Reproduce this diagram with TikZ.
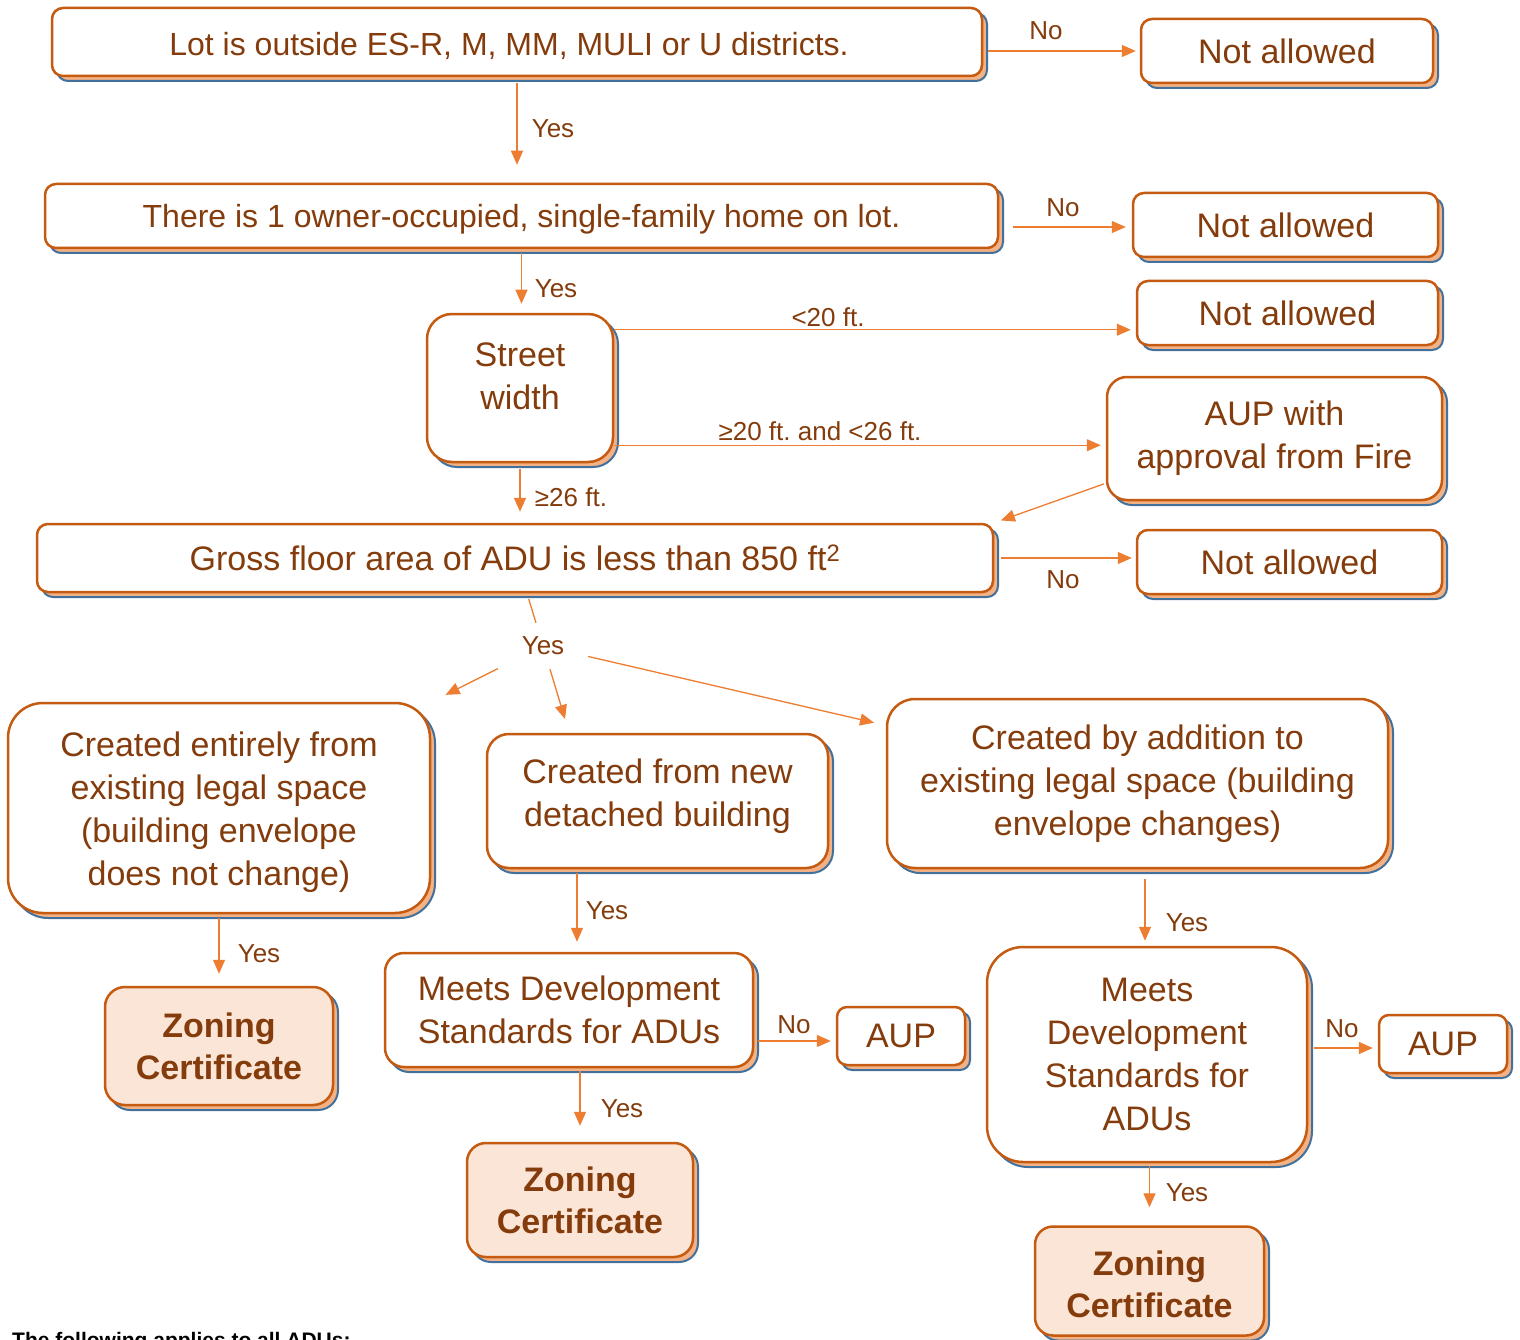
\documentclass[tikz,border=0pt]{standalone}
\usepackage{fontspec}
\setmainfont{Liberation Sans}
\usetikzlibrary{arrows.meta}
\frenchspacing
\definecolor{bord}{HTML}{C55A11}
\definecolor{shadl}{HTML}{F4B183}
\definecolor{shadb}{HTML}{41719C}
\definecolor{txt}{HTML}{843C0C}
\definecolor{arrc}{HTML}{ED7D31}
\definecolor{zfill}{HTML}{FBE5D6}
\newcommand{\mvtxt}[3]{\raisebox{#2}[\height][\depth]{\hspace*{#1}#3\hspace*{-#1}}}
\tikzset{
  box/.style={draw=bord, line width=2.5pt, fill=white, text=txt, align=center, inner sep=0pt,
    preaction={fill=shadl, draw=shadb, line width=2pt, transform canvas={shift={(5pt,-5pt)}}},
    font=\fontsize{34}{43}\selectfont},
  smallbox/.style={box, font=\fontsize{32}{40}\selectfont},
  zbox/.style={box, fill=zfill, font=\bfseries\fontsize{34}{42}\selectfont},
  arr/.style={draw=arrc, line width=1.3pt, -{Triangle[length=14pt,width=12pt]}},
  plainline/.style={draw=arrc, line width=1.3pt},
  lab/.style={text=txt, font=\fontsize{26}{30}\selectfont, inner sep=0pt},
}
\begin{document}
\begin{tikzpicture}[x=1pt,y=-1pt]
\useasboundingbox (0,0) rectangle (1520,1340);
\fill[white] (0,0) rectangle (1520,1340);

% boxes
\node[smallbox, minimum width=930pt, minimum height=68pt, rounded corners=11pt] (lot) at (517,42) {\mvtxt{-8pt}{-4pt}{Lot is outside ES-R, M, MM, MULI or U districts.}};
\node[box, minimum width=292pt, minimum height=64pt, rounded corners=11pt] (na1) at (1287,51) {Not allowed};
\node[smallbox, minimum width=953pt, minimum height=64pt, rounded corners=11pt] (there) at (521.5,216) {\mvtxt{0pt}{-3pt}{There is 1 owner-occupied, single-family home on lot.}};
\node[box, minimum width=305pt, minimum height=64pt, rounded corners=11pt] (na2) at (1285.5,225) {Not allowed};
\node[box, minimum width=301pt, minimum height=64pt, rounded corners=11pt] (na3) at (1287.5,313) {Not allowed};
\node[box, minimum width=186pt, minimum height=148pt, rounded corners=25pt] (street) at (520,388) {Street\\width\\[-20pt]\mbox{}};
\node[box, minimum width=335pt, minimum height=123pt, rounded corners=20pt] (fire) at (1274.5,438.5) {AUP with\\approval from Fire};
\node[box, minimum width=956pt, minimum height=68pt, rounded corners=11pt] (gross) at (515,558) {Gross floor area of ADU is less than 850 ft\textsuperscript{2}};
\node[box, minimum width=305pt, minimum height=64pt, rounded corners=11pt] (na4) at (1289.5,562) {Not allowed};
\node[box, minimum width=422pt, minimum height=210pt, rounded corners=35pt] (entire) at (219,808) {\rule{0pt}{33pt}Created entirely from\\existing legal space\\(building envelope\\does not change)};
\node[box, minimum width=341pt, minimum height=134pt, rounded corners=22pt] (newb) at (657.5,801) {Created from new\\detached building\\[-27pt]\mbox{}};
\node[box, minimum width=501pt, minimum height=169pt, rounded corners=28pt] (add) at (1137.5,783.5) {Created by addition to\\existing legal space (building\\envelope changes)};
\node[zbox, minimum width=228pt, minimum height=118pt, rounded corners=20pt] (zon1) at (219,1046) {Zoning\\Certificate};
\node[box, minimum width=368pt, minimum height=114pt, rounded corners=19pt] (meets1) at (569,1010) {Meets Development\\Standards for ADUs};
\node[box, minimum width=128pt, minimum height=58pt, rounded corners=10pt] (aup1) at (901,1036) {AUP};
\node[box, minimum width=320pt, minimum height=215pt, rounded corners=36pt] (meets2) at (1147,1054.5) {Meets\\Development\\Standards for\\ADUs};
\node[box, minimum width=128pt, minimum height=58pt, rounded corners=10pt] (aup2) at (1443,1044) {AUP};
\node[zbox, minimum width=226pt, minimum height=114pt, rounded corners=19pt] (zon2) at (580,1200) {Zoning\\Certificate};
\node[zbox, minimum width=229pt, minimum height=109pt, rounded corners=18pt] (zon3) at (1149.5,1281) {\rule{0pt}{31pt}Zoning\\Certificate};

% labels
\node[lab] (l1) at (1046,31) {No};
\node[lab] (l2) at (553,129) {Yes};
\node[lab] (l3) at (1063,208) {No};
\node[lab] (l4) at (556,289) {Yes};
\node[lab] (l5) at (828,317) {<20 ft.};
\node[lab] (l6) at (820,431) {≥20 ft. and <26 ft.};
\node[lab] (l7) at (571,497) {≥26 ft.};
\node[lab] (l8) at (1063,580) {No};
\node[lab, minimum width=90pt, minimum height=46pt] (yes) at (543,646) {Yes};
\node[lab] (l9) at (259,954) {Yes};
\node[lab] (l10) at (607,911) {Yes};
\node[lab] (l11) at (794,1025) {No};
\node[lab] (l12) at (622,1109) {Yes};
\node[lab] (l13) at (1187,923) {Yes};
\node[lab] (l14) at (1342,1029) {No};
\node[lab] (l15) at (1187,1193) {Yes};

\coordinate (tipB) at (565,719);

% connectors
\draw[arr, shorten <=5pt, shorten >=4pt] (lot.east |- na1.west) -- (na1.west);
\draw[arr, shorten <=6pt, shorten >=18pt] (lot.south) -- (lot.south |- there.north);
\draw[arr, shorten <=14pt, shorten >=6pt] ([yshift=-2pt]there.east |- na2.west) -- ([yshift=-2pt]na2.west);
\draw[arr, shorten <=4pt, shorten >=9pt] (there.south) -- (there.south |- street.north);
\draw[arr, shorten >=5pt] ([yshift=-17pt]street.north east) -- ([yshift=-17pt]street.north east -| na3.west);
\draw[arr, shorten >=5pt] ([yshift=18pt]street.south east) -- ([yshift=18pt]street.south east -| fire.west);
\draw[arr, shorten <=6pt, shorten >=11pt] (street.south) -- (street.south |- gross.north);
\draw[arr, shorten <=2pt, shorten >=7pt] ([yshift=18pt]fire.south west) -- (gross.north east);
\draw[arr, shorten <=7pt, shorten >=4pt] (gross.east) -- (gross.east -| na4.west);
\draw[plainline, shorten <=6pt] ([xshift=12pt]gross.south) -- (yes);
\draw[arr, shorten >=16pt] (yes) -- (entire);
\draw[arr] (yes) -- (tipB);
\draw[arr, shorten >=12pt] (yes) -- (add);
\draw[arr, shorten <=4pt, shorten >=12pt] (entire.south) -- (zon1.north);
\draw[arr, shorten <=4pt, shorten >=10pt] ([xshift=8pt]meets1.north |- newb.south) -- ([xshift=8pt]meets1.north);
\draw[arr, shorten <=4pt, shorten >=5pt] ([yshift=-5pt]aup1.west -| meets1.east) -- ([yshift=-5pt]aup1.west);
\draw[arr, shorten <=3pt, shorten >=16pt] (zon2.north |- meets1.south) -- (zon2.north);
\draw[arr, shorten <=10pt, shorten >=5pt] ([xshift=-2pt]meets2.north |- add.south) -- ([xshift=-2pt]meets2.north);
\draw[arr, shorten <=6pt, shorten >=5pt] ([yshift=-4pt]aup2.west -| meets2.east) -- ([yshift=-4pt]aup2.west);
\draw[arr, shorten <=3pt, shorten >=18pt] (zon3.north |- meets2.south) -- (zon3.north);

\node[anchor=base west, font=\bfseries\fontsize{21}{25}\selectfont, inner sep=0pt] (foot) at (12,1347) {The following applies to all ADUs:};
\end{tikzpicture}
\end{document}
